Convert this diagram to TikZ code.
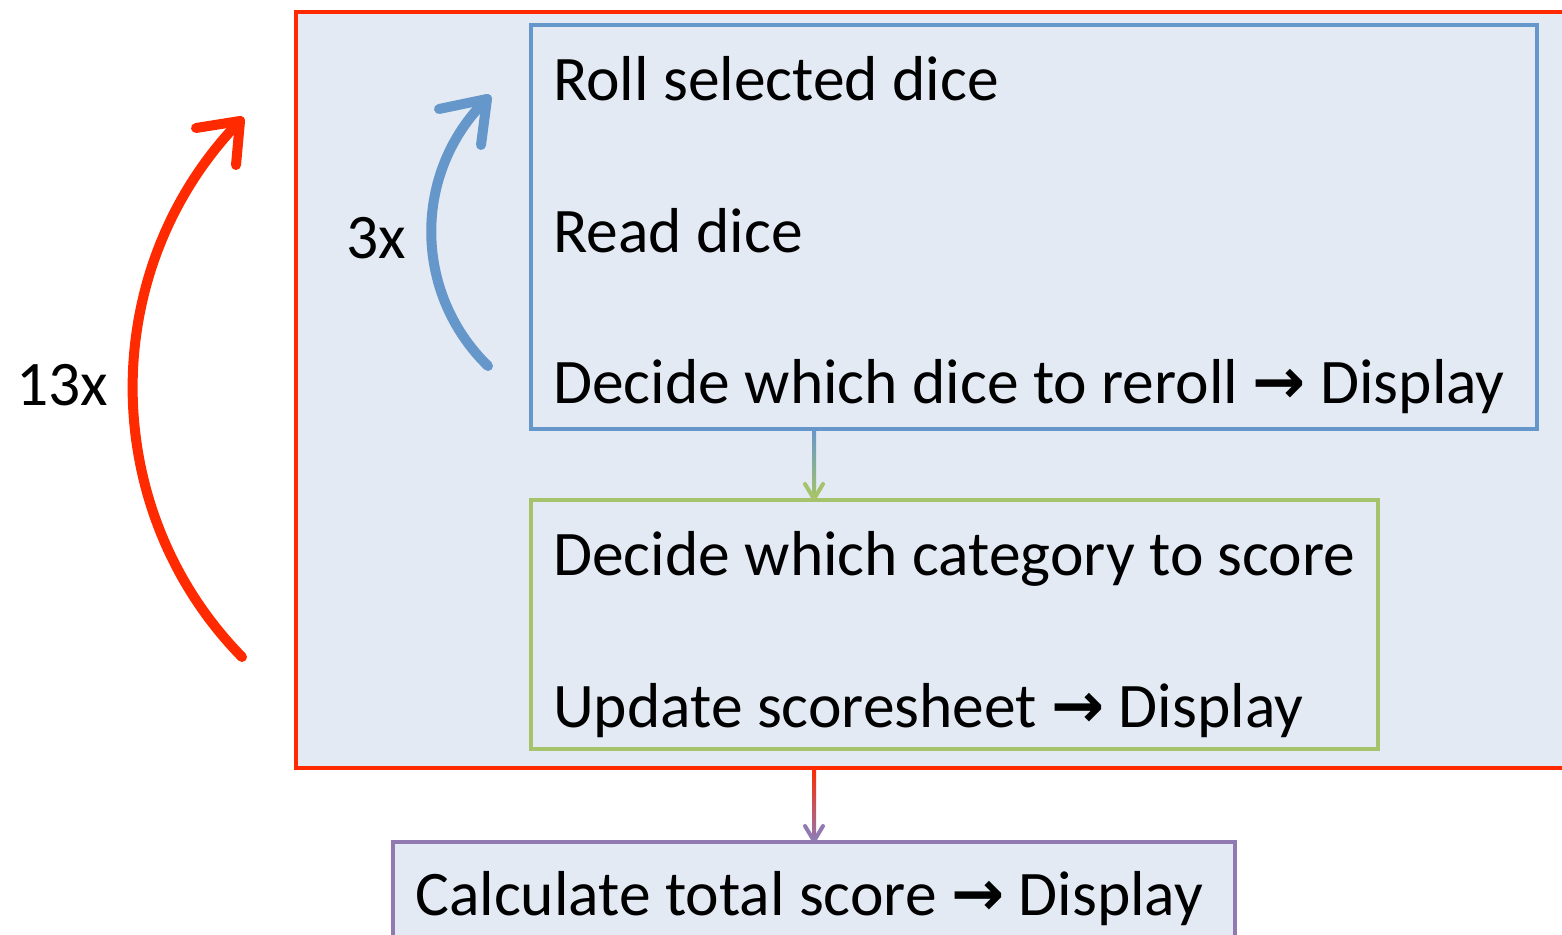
\documentclass[tikz,border=0pt]{standalone}
\usepackage{fontspec}
\setmainfont{Carlito}
\newfontfamily\arrowfont{DejaVu Sans}
\definecolor{redline}{HTML}{FF2A00}
\definecolor{blueline}{HTML}{6697CA}
\definecolor{greenline}{HTML}{A5C36A}
\definecolor{purpleline}{HTML}{9179B2}
\definecolor{boxfill}{HTML}{E3EAF4}
\newcommand{\ra}{{\arrowfont\bfseries →}}
\begin{document}
\begin{tikzpicture}[x=1pt,y=-1pt,
  box/.style={draw, line width=4.5pt, fill=boxfill, inner sep=0pt, outer sep=0pt, anchor=north west},
  lbl/.style={anchor=base west, inner sep=0pt, font=\fontsize{63.5}{76}\selectfont},
  loop/.style={line width=10pt, line cap=round, line join=round},
  chev/.style={line width=4pt, line cap=round, line join=round}]
\useasboundingbox (0,0) rectangle (1562,934);
% outer red box
\node[box, draw=redline, minimum width=1290pt, minimum height=756pt] (outer) at (296,12) {};
% blue box
\node[box, draw=blueline, minimum width=1006pt, minimum height=404pt] (rollbox) at (531,25) {};
% green box
\node[box, draw=greenline, minimum width=847pt, minimum height=249pt] (scorebox) at (531,500) {};
% purple box
\node[box, draw=purpleline, minimum width=842pt, minimum height=120pt] (totalbox) at (393,842) {};

% texts
\node[lbl] (t1) at (553,100) {Roll selected dice};
\node[lbl] (t2) at (553,252) {Read dice};
\node[lbl] (t3) at (553,403) {Decide which dice to reroll \ra{} Display};
\node[lbl] (t4) at (553,575) {Decide which category to score};
\node[lbl] (t5) at (553,727) {Update scoresheet \ra{} Display};
\node[lbl] (t6) at (415,915) {Calculate total score \ra{} Display};
\node[lbl] (l3) at (346,258) {3x};
\node[lbl] (l13) at (16,405) {13x};

% connectors (gradient shafts)
\coordinate (c1a) at (totalbox.north |- rollbox.south);
\coordinate (c1b) at (totalbox.north |- scorebox.north);
\shade[top color=blueline, bottom color=greenline]
  ([xshift=-2pt]c1a) rectangle ([xshift=2pt,yshift=1pt]c1b);
\draw[chev, greenline] ([xshift=-9pt,yshift=16pt]c1b) -- ([yshift=1pt]c1b) -- ([xshift=9pt,yshift=16pt]c1b);
\coordinate (c2a) at (totalbox.north |- outer.south);
\coordinate (c2b) at (totalbox.north);
\shade[top color=redline, bottom color=purpleline]
  ([xshift=-2pt]c2a) rectangle ([xshift=2pt,yshift=1pt]c2b);
\draw[chev, purpleline] ([xshift=-9pt,yshift=16pt]c2b) -- ([yshift=1pt]c2b) -- ([xshift=9pt,yshift=16pt]c2b);

% red loop arrow
\coordinate (r0) at (242,657);
\coordinate (r1) at (240,121);
\draw[loop, redline] (r0) .. controls (97,509) and (96,269) .. (r1);
\draw[loop, redline] (196,128) -- (r1) -- (236,165);
% blue loop arrow
\coordinate (b0) at (488,366);
\coordinate (b1) at (487,99);
\draw[loop, blueline] (b0) .. controls (413,293) and (412,172) .. (b1);
\draw[loop, blueline] (439,109) -- (b1) -- (481,145);
\end{tikzpicture}
\end{document}
